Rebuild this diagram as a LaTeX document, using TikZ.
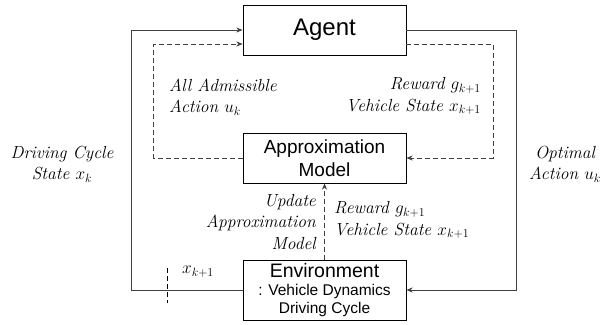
\documentclass[tikz,border=0pt]{standalone}
\usepackage{amsmath}
\usepackage{fontspec}
\setsansfont{Liberation Sans}
\usepackage{tikz}
\usetikzlibrary{arrows.meta,positioning,calc}

\begin{document}
\begin{tikzpicture}[
  x=1pt, y=-1pt,
  box/.style={draw=black, line width=0.9pt, minimum width=163pt, align=center,
              inner sep=2pt, font=\sffamily},
  lbl/.style={font=\fontsize{17.5}{21.5}\selectfont\itshape, inner sep=0pt},
  sol/.style={-{Stealth[length=2.2mm,width=1.8mm]}, line width=0.9pt, draw=black!75},
  dsh/.style={sol, dash pattern=on 5pt off 3pt, line width=0.7pt}
]
\useasboundingbox (0,0) rectangle (604,324);

\node[box, minimum height=50pt, font=\sffamily\fontsize{24}{26}\selectfont] (agent) at (324.5,30) {Agent};
\node[box, minimum height=50pt, font=\sffamily\fontsize{19}{23}\selectfont] (approx) at (324.5,158) {Approximation\\Model};
\node[box, minimum height=60pt, font=\sffamily\fontsize{15.5}{18}\selectfont] (env) at (324.5,290)
  {{\fontsize{19.5}{22}\selectfont Environment}\\: Vehicle Dynamics\\Driving Cycle};

% solid loop
\draw[sol] (env.west) -- ++(-111,0) |- (agent.west);
\draw[sol] (agent.east) -- ++(110,0) |- (env.east);

% dashed loop
\draw[dsh] (approx.west) -- ++(-89,0) |- ([yshift=-14pt]agent.west);
\draw[dsh] ([yshift=-14pt]agent.east) -- ++(87,0) |- (approx.east);
\draw[dsh] (env.north) -- (approx.south);

\coordinate (tickA) at (167,268);
\coordinate (tickB) at (167,303);
\draw[dash pattern=on 5pt off 3pt, line width=0.7pt] (tickA) -- (tickB);

\node[lbl, align=left, anchor=west] (admis) at (169,97) {All Admissible\\Action $u_k$};
\node[lbl, align=right, anchor=east] (rew1) at (481,96) {Reward $g_{k+1}$\\Vehicle State $x_{k+1}$};
\node[lbl, align=right, anchor=east] (upd) at (316,222) {Update\\Approximation\\Model};
\node[lbl, align=left, anchor=west] (rew2) at (334,220) {Reward $g_{k+1}$\\Vehicle State $x_{k+1}$};
\node[lbl] (xk1) at (198,272) {$x_{k+1}$};
\node[lbl, align=center] (cyc) at (62,164) {Driving Cycle\\State $x_k$};
\node[lbl, align=center] (opt) at (565,164) {Optimal\\Action $u_k$};
\end{tikzpicture}
\end{document}
